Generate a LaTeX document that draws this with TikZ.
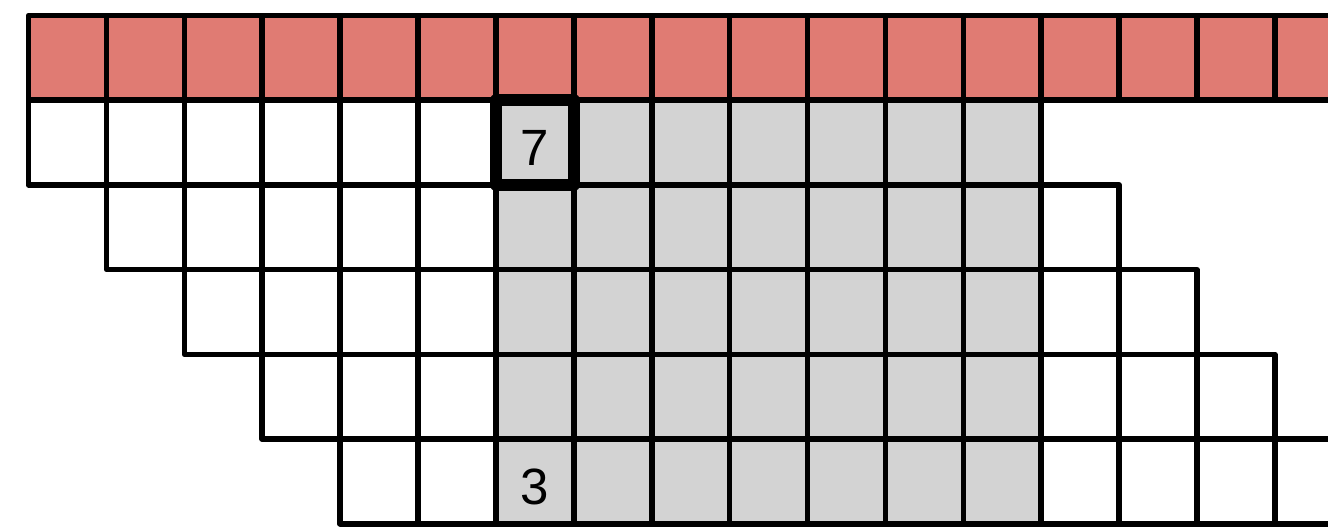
\documentclass[tikz,border=0pt]{standalone}
\usepackage{fontspec}
\setmainfont{Liberation Sans}
\definecolor{cellred}{RGB}{224,123,115}
\definecolor{cellgray}{RGB}{211,211,211}
\begin{document}
\begin{tikzpicture}[x=1pt,y=1pt,
  cell/.style={draw=black, line width=5.6pt, line join=round, rectangle, inner sep=0pt,
    minimum width=77.9pt, minimum height=84.7pt},
  hilite/.style={draw=black, line width=12pt, line join=round, rectangle, inner sep=0pt,
    minimum width=77.9pt, minimum height=84.7pt},
  num/.style={font=\fontsize{51}{60}\selectfont, inner sep=0pt}]
\useasboundingbox (0,0) rectangle (1328,-531);
\clip (0,0) rectangle (1328,-531);
% top red row
\foreach \c in {0,...,17}
  \node[cell, fill=cellred] (r0c\c) at ({28.5+(\c+0.5)*77.9}, {-(15.5+0.5*84.7)}) {};
% staggered rows
\foreach \r in {1,...,5}{
  \pgfmathtruncatemacro\cs{\r-1}
  \pgfmathtruncatemacro\ce{\r+11}
  \foreach \c in {\cs,...,\ce}{
    \ifnum\c<6 \def\fc{white}\else\ifnum\c>12 \def\fc{white}\else\def\fc{cellgray}\fi\fi
    \node[cell, fill=\fc] (r\r c\c) at ({28.5+(\c+0.5)*77.9}, {-(15.5+(\r+0.5)*84.7)}) {};
  }
}
\node[hilite] (hl) at (r1c6) {};
\node[num] (t7) at ([yshift=-5pt]r1c6.center) {7};
\node[num] (t3) at ([yshift=-6pt]r5c6.center) {3};
\end{tikzpicture}
\end{document}
